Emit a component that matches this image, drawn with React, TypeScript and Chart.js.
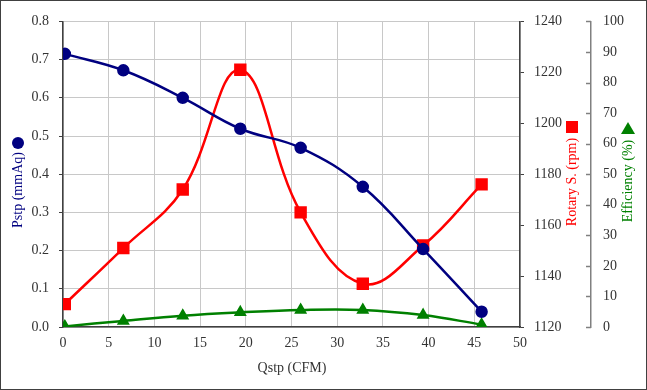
import React, { useEffect, useRef } from 'react';
import { Chart, registerables } from 'chart.js';

Chart.register(...registerables);

const qstp = [0.2, 6.6, 13.1, 19.4, 26.0, 32.8, 39.4, 45.8];
const pstp = [0.715, 0.672, 0.6, 0.519, 0.469, 0.367, 0.204, 0.04];
const rotary = [1129, 1151, 1174, 1221, 1165, 1137, 1152, 1176];
const efficiency = [0.2, 2.0, 3.7, 4.8, 5.6, 5.6, 3.9, 0.8];

const xTitle = 'Qstp (CFM)';
const pTitle = 'Pstp (mmAq)';
const rTitle = 'Rotary S. (rpm)';
const eTitle = 'Efficiency (%)';

const NAVY = '#000080';
const RED = '#ff0000';
const GREEN = '#008000';
const FONT = "'Liberation Serif', 'Times New Roman', serif";
const TICK_COLOR = '#333333';
const GRID = '#c8c8c8';
const AXIS = '#404040';

const pts = (ys: number[]) => qstp.map((x, i) => ({ x, y: ys[i] }));

const decor = {
  id: 'decor',
  afterDraw(chart: any) {
    const ctx = chart.ctx as CanvasRenderingContext2D;
    ctx.save();
    ctx.font = `14px ${FONT}`;
    ctx.textAlign = 'center';
    ctx.textBaseline = 'middle';
    ctx.fillStyle = '#333333';
    ctx.fillText(xTitle, 291, 367);
    const vtext = (t: string, x: number, y: number, c: string) => {
      ctx.save();
      ctx.translate(x, y);
      ctx.rotate(-Math.PI / 2);
      ctx.fillStyle = c;
      ctx.fillText(t, 0, 0);
      ctx.restore();
    };
    vtext(pTitle, 17, 189, NAVY);
    vtext(rTitle, 571, 181, RED);
    vtext(eTitle, 627, 180, GREEN);
    ctx.fillStyle = NAVY;
    ctx.beginPath();
    ctx.arc(17, 142, 6, 0, Math.PI * 2);
    ctx.fill();
    ctx.fillStyle = RED;
    ctx.fillRect(565, 120, 12, 12);
    ctx.fillStyle = GREEN;
    ctx.beginPath();
    ctx.moveTo(627, 121);
    ctx.lineTo(634, 133);
    ctx.lineTo(620, 133);
    ctx.closePath();
    ctx.fill();
    const s = chart.scales.y2;
    ctx.strokeStyle = '#808080';
    ctx.lineWidth = 1.5;
    s.ticks.forEach((t: any) => {
      const py = Math.round(s.getPixelForValue(t.value)) + 0.5;
      ctx.beginPath();
      ctx.moveTo(s.left - 5, py);
      ctx.lineTo(s.left, py);
      ctx.stroke();
    });
    ctx.restore();
  },
};

export default function App() {
  const ref = useRef<HTMLCanvasElement>(null);
  useEffect(() => {
    document.body.style.margin = '0';
    const chart = new Chart(ref.current!, {
      type: 'line',
      data: {
        datasets: [
          {
            label: pTitle,
            data: pts(pstp),
            yAxisID: 'y',
            borderColor: NAVY,
            backgroundColor: NAVY,
            borderWidth: 2.5,
            pointStyle: 'circle',
            pointRadius: 5,
            tension: 0.4,
          },
          {
            label: rTitle,
            data: pts(rotary),
            yAxisID: 'y1',
            borderColor: RED,
            backgroundColor: RED,
            borderWidth: 2.5,
            pointStyle: 'rect',
            pointRadius: 7,
            tension: 0.4,
          },
          {
            label: eTitle,
            data: pts(efficiency),
            yAxisID: 'y2',
            borderColor: GREEN,
            backgroundColor: GREEN,
            borderWidth: 2.5,
            pointStyle: 'triangle',
            pointRadius: 5,
            tension: 0.4,
          },
        ],
      },
      options: {
        responsive: false,
        animation: false,
        layout: { padding: { top: 18, left: 0, right: 0, bottom: 0 } },
        plugins: { legend: { display: false }, tooltip: { enabled: false } },
        scales: {
          x: {
            type: 'linear',
            min: 0,
            max: 50,
            ticks: { stepSize: 5, color: TICK_COLOR, font: { family: FONT, size: 14 }, padding: 8 },
            grid: { color: GRID, drawTicks: false },
            border: { color: AXIS, width: 1.5 },
            afterFit: (s: any) => { s.height = 62; },
          },
          y: {
            position: 'left',
            min: 0,
            max: 0.8,
            ticks: {
              stepSize: 0.1,
              color: TICK_COLOR,
              font: { family: FONT, size: 14 },
              padding: 10,
              callback: (v: any) => Number(v).toFixed(1),
            },
            grid: { color: GRID, tickLength: 4, tickColor: AXIS },
            border: { color: AXIS, width: 1.5 },
            afterFit: (s: any) => { s.width = 62; },
          },
          y1: {
            position: 'right',
            min: 1120,
            max: 1240,
            ticks: {
              stepSize: 20,
              color: TICK_COLOR,
              font: { family: FONT, size: 14 },
              padding: 10,
              callback: (v: any) => String(v),
            },
            grid: { drawOnChartArea: false, tickLength: 4, tickColor: AXIS },
            border: { color: AXIS, width: 1.5 },
            afterFit: (s: any) => { s.width = 71; },
          },
          y2: {
            position: 'right',
            min: 0,
            max: 100,
            ticks: { stepSize: 10, color: TICK_COLOR, font: { family: FONT, size: 14 }, padding: 12 },
            grid: { drawOnChartArea: false, drawTicks: false },
            border: { color: '#808080', width: 1.5 },
            afterFit: (s: any) => { s.width = 55; },
          },
        },
      },
      plugins: [decor],
    });
    return () => chart.destroy();
  }, []);
  return (
    <div style={{ width: 645, height: 388, border: '1px solid #404040', background: '#fff' }}>
      <canvas ref={ref} width={645} height={388} />
    </div>
  );
}
